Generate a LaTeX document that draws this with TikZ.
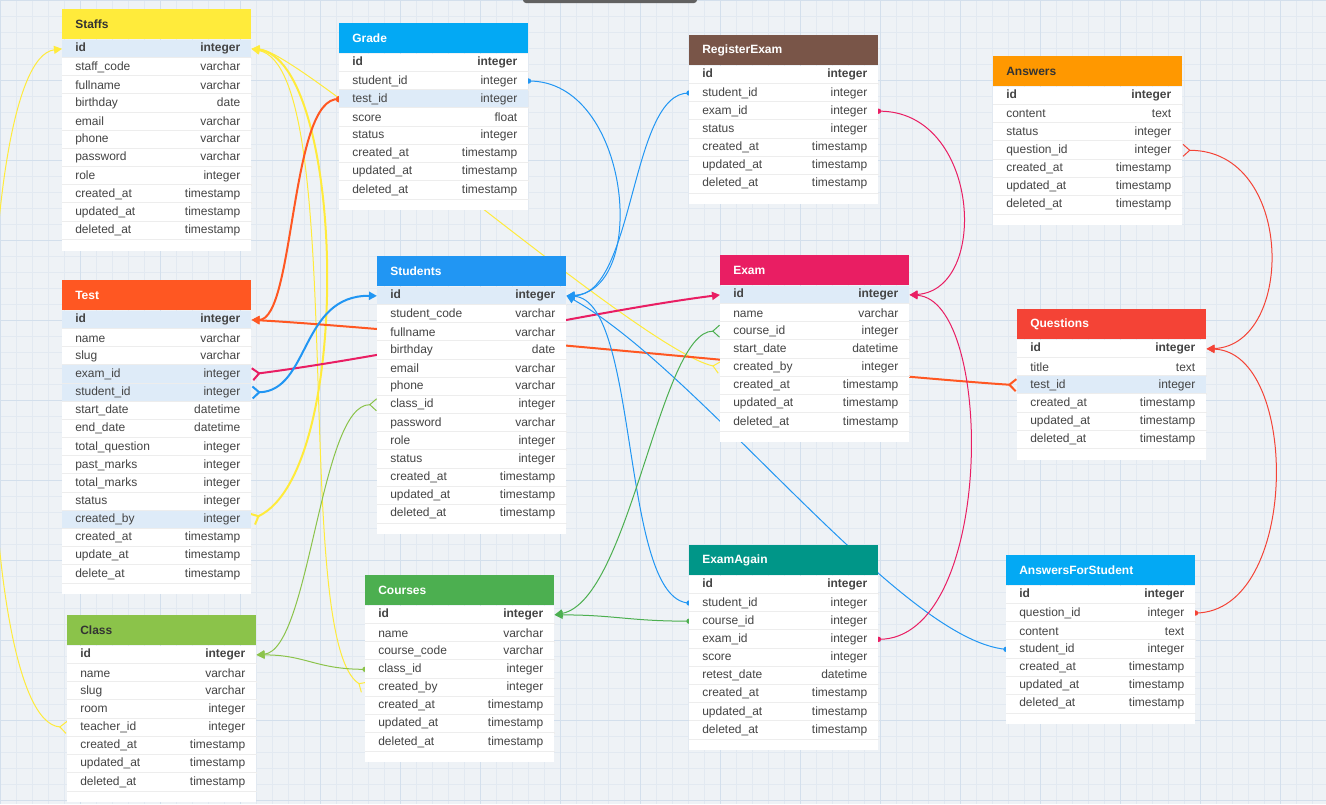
\documentclass[tikz,border=0pt]{standalone}
\usepackage{fontspec}
\setmainfont{Liberation Sans}
\usetikzlibrary{arrows.meta,calc}

\newlength\px
\setlength\px{0.75pt}

\definecolor{canvas}{HTML}{EEF2F6}
\definecolor{gridminor}{HTML}{E2E9F1}
\definecolor{gridmajor}{HTML}{D3DFEC}
\definecolor{hl}{HTML}{DEEBF8}
\definecolor{sepc}{HTML}{EDEDED}
\definecolor{rowtext}{HTML}{444444}
\definecolor{titledark}{HTML}{333333}
\definecolor{cyellow}{HTML}{FFEB3B}
\definecolor{corange}{HTML}{FF5722}
\definecolor{cbrown}{HTML}{795548}
\definecolor{camber}{HTML}{FF9800}
\definecolor{cblue}{HTML}{2196F3}
\definecolor{clightblue}{HTML}{03A9F4}
\definecolor{cpink}{HTML}{E91E63}
\definecolor{cred}{HTML}{F44336}
\definecolor{cgreen}{HTML}{4CAF50}
\definecolor{clime}{HTML}{8BC34A}
\definecolor{cteal}{HTML}{009688}
\definecolor{cbar}{HTML}{616161}

\pgfdeclarelayer{grid}
\pgfdeclarelayer{links}
\pgfsetlayers{grid,links,main}

\tikzset{
  tabhead/.style={anchor=north west,minimum width=189\px,minimum height=30\px,inner sep=0pt,font=\fontsize{9}{11}\selectfont\bfseries},
  tabrow/.style={anchor=north west,minimum width=189\px,minimum height=18.15\px,inner sep=0pt,text=rowtext,font=\fontsize{9}{11}\selectfont},
  sepline/.style={draw=sepc,line width=1\px},
  thicklink/.style={line width=2\px},
  thinlink/.style={line width=1\px},
  manytoone/.style={{Straight Barb[reversed,length=5pt,width=9pt]}-{Triangle[length=6pt,width=6pt]}},
  dottoone/.style={-{Triangle[length=6pt,width=6pt]}},
}

% one table: key, title, top left corner, header colour, title colour, rows
\newcommand{\dbtable}[6]{%
  \node[tabhead,fill=#4,text=#5] (#1) at (#3) {\hbox to 163\px{#2\hfill}};
  \foreach \fname/\ftype/\fhl [count=\i from 0] in {#6}{
    \node[tabrow,fill=\fhl] (#1-\fname) at ($(#1.south west)+(0,\i*18.15)$)
      {\hbox to 167\px{\hspace*{2\px}\ifnum\i=0 \bfseries\fi\fname\hfill\ftype}};
    \ifnum\i>0 \draw[sepline] (#1-\fname.north west) -- (#1-\fname.north east);\fi
    \fill[white] (#1-\fname.south west) rectangle ++(189,11);
    \draw[sepline] (#1-\fname.south west) -- (#1-\fname.south east);
  }%
}

\begin{document}
\catcode`\_=12
\begin{tikzpicture}[x=0.75pt,y=-0.75pt]
\useasboundingbox (0,0) rectangle (1326,804);
%background grid
\begin{pgfonlayer}{grid}
\fill[canvas] (0,0) rectangle (1326,804);
\foreach \gx in {0,16,...,1326}{
\draw[gridminor,line width=1\px] (\gx,0) -- (\gx,804);
}
\foreach \gy in {0,16,...,804}{
\draw[gridminor,line width=1\px] (0,\gy) -- (1326,\gy);
}
\foreach \gx in {0,80,...,1326}{
\draw[gridmajor,line width=1\px] (\gx,0) -- (\gx,804);
}
\foreach \gy in {0,80,...,804}{
\draw[gridmajor,line width=1\px] (0,\gy) -- (1326,\gy);
}
\end{pgfonlayer}
\fill[cbar,rounded corners=3\px] (523,-6) rectangle (697,3);

%tables
\dbtable{staffs}{Staffs}{62,9}{cyellow}{titledark}{id/integer/hl,
  staff_code/varchar/white,fullname/varchar/white,birthday/date/white,
  email/varchar/white,phone/varchar/white,password/varchar/white,
  role/integer/white,created_at/timestamp/white,updated_at/timestamp/white,
  deleted_at/timestamp/white}
\dbtable{grade}{Grade}{339,23}{clightblue}{white}{id/integer/white,
  student_id/integer/white,test_id/integer/hl,score/float/white,
  status/integer/white,created_at/timestamp/white,updated_at/timestamp/white,
  deleted_at/timestamp/white}
\dbtable{regexam}{RegisterExam}{689,35}{cbrown}{white}{id/integer/white,
  student_id/integer/white,exam_id/integer/white,status/integer/white,
  created_at/timestamp/white,updated_at/timestamp/white,
  deleted_at/timestamp/white}
\dbtable{answers}{Answers}{993,56}{camber}{titledark}{id/integer/white,
  content/text/white,status/integer/white,question_id/integer/white,
  created_at/timestamp/white,updated_at/timestamp/white,
  deleted_at/timestamp/white}
\dbtable{test}{Test}{62,280}{corange}{white}{id/integer/hl,
  name/varchar/white,slug/varchar/white,exam_id/integer/hl,
  student_id/integer/hl,start_date/datetime/white,end_date/datetime/white,
  total_question/integer/white,past_marks/integer/white,
  total_marks/integer/white,status/integer/white,created_by/integer/hl,
  created_at/timestamp/white,update_at/timestamp/white,
  delete_at/timestamp/white}
\dbtable{students}{Students}{377,256}{cblue}{white}{id/integer/hl,
  student_code/varchar/white,fullname/varchar/white,birthday/date/white,
  email/varchar/white,phone/varchar/white,class_id/integer/white,
  password/varchar/white,role/integer/white,status/integer/white,
  created_at/timestamp/white,updated_at/timestamp/white,
  deleted_at/timestamp/white}
\dbtable{exam}{Exam}{720,255}{cpink}{white}{id/integer/hl,
  name/varchar/white,course_id/integer/white,start_date/datetime/white,
  created_by/integer/white,created_at/timestamp/white,
  updated_at/timestamp/white,deleted_at/timestamp/white}
\dbtable{questions}{Questions}{1017,309}{cred}{white}{id/integer/white,
  title/text/white,test_id/integer/hl,created_at/timestamp/white,
  updated_at/timestamp/white,deleted_at/timestamp/white}
\dbtable{class}{Class}{67,615}{clime}{titledark}{id/integer/white,
  name/varchar/white,slug/varchar/white,room/integer/white,
  teacher_id/integer/white,created_at/timestamp/white,
  updated_at/timestamp/white,deleted_at/timestamp/white}
\dbtable{courses}{Courses}{365,575}{cgreen}{white}{id/integer/white,
  name/varchar/white,course_code/varchar/white,class_id/integer/white,
  created_by/integer/white,created_at/timestamp/white,
  updated_at/timestamp/white,deleted_at/timestamp/white}
\dbtable{examagain}{ExamAgain}{689,545}{cteal}{white}{id/integer/white,
  student_id/integer/white,course_id/integer/white,exam_id/integer/white,
  score/integer/white,retest_date/datetime/white,created_at/timestamp/white,
  updated_at/timestamp/white,deleted_at/timestamp/white}
\dbtable{ansstudent}{AnswersForStudent}{1006,555}{clightblue}{white}{id/integer/white,
  question_id/integer/white,content/text/white,student_id/integer/white,
  created_at/timestamp/white,updated_at/timestamp/white,
  deleted_at/timestamp/white}

%relations
\begin{pgfonlayer}{links}
\clip (0,0) rectangle (1326,804);
% staff links
\draw[thinlink,cyellow,manytoone] (class-teacher_id.west) .. controls (-30,720) and (-30,60) .. (staffs-id.west);
\draw[thicklink,cyellow,manytoone] (test-created_by.east) .. controls (355,470) and (345,60) .. (staffs-id.east);
\draw[thinlink,cyellow,manytoone] (courses-created_by.west) .. controls (290,640) and (350,70) .. (staffs-id.east);
\draw[thinlink,cyellow,manytoone] (exam-created_by.west) .. controls (640,350) and (300,50) .. (staffs-id.east);
% test links
\draw[thicklink,corange,dottoone] (grade-test_id.west) .. controls (290,95) and (295,320) .. (test-id.east);
\fill[corange] (grade-test_id.west) circle[radius=2.5pt];
\draw[thicklink,corange,manytoone] (questions-test_id.west) .. controls (900,378) and (400,328) .. (test-id.east);
\draw[thicklink,cpink,manytoone] (test-exam_id.east) .. controls (400,355) and (600,310) .. (exam-id.west);
\draw[thicklink,cblue,manytoone] (test-student_id.east) .. controls (310,391) and (300,295) .. (students-id.west);
% student links
\draw[thinlink,cblue,dottoone] (grade-student_id.east) .. controls (630,80) and (650,290) .. (students-id.east);
\fill[cblue] (grade-student_id.east) circle[radius=2pt];
\draw[thinlink,cblue,dottoone] (regexam-student_id.west) .. controls (630,92) and (635,295) .. (students-id.east);
\fill[cblue] (regexam-student_id.west) circle[radius=2pt];
\draw[thinlink,cblue,dottoone] (examagain-student_id.west) .. controls (620,600) and (640,300) .. (students-id.east);
\fill[cblue] (examagain-student_id.west) circle[radius=2pt];
\draw[thinlink,cblue,dottoone] (ansstudent-student_id.west) .. controls (900,640) and (700,370) .. (students-id.east);
\fill[cblue] (ansstudent-student_id.west) circle[radius=2pt];
% exam links
\draw[thinlink,cpink,dottoone] (regexam-exam_id.east) .. controls (980,110) and (990,290) .. (exam-id.east);
\fill[cpink] (regexam-exam_id.east) circle[radius=2pt];
\draw[thinlink,cpink,dottoone] (examagain-exam_id.east) .. controls (995,640) and (995,300) .. (exam-id.east);
\fill[cpink] (examagain-exam_id.east) circle[radius=2pt];
% course and class links
\draw[thinlink,cgreen,manytoone] (exam-course_id.west) .. controls (660,331) and (630,600) .. (courses-id.east);
\draw[thinlink,cgreen,dottoone] (examagain-course_id.west) .. controls +(-60,0) and +(60,0) .. (courses-id.east);
\fill[cgreen] (examagain-course_id.west) circle[radius=2pt];
\draw[thinlink,clime,manytoone] (students-class_id.west) .. controls (320,404) and (310,650) .. (class-id.east);
\draw[thinlink,clime,dottoone] (courses-class_id.west) .. controls +(-50,0) and +(50,0) .. (class-id.east);
\fill[clime] (courses-class_id.west) circle[radius=2pt];
% question links
\draw[thinlink,cred,manytoone] (answers-question_id.east) .. controls (1295,150) and (1295,345) .. (questions-id.east);
\draw[thinlink,cred,dottoone] (ansstudent-question_id.east) .. controls (1300,612) and (1300,352) .. (questions-id.east);
\fill[cred] (ansstudent-question_id.east) circle[radius=2pt];
\end{pgfonlayer}
\end{tikzpicture}
\end{document}
